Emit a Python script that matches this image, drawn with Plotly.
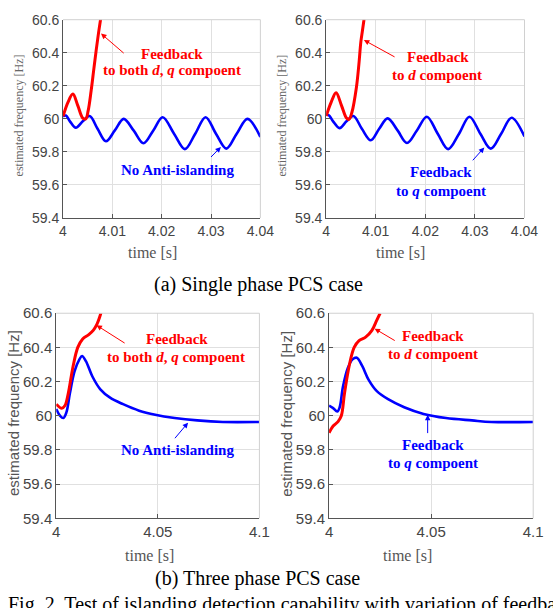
import plotly.graph_objects as go

# ---------------- data ----------------
# (a) single phase, left panel
a1_blue_t = [4.0000, 4.0006, 4.0014, 4.0026, 4.0040, 4.0054, 4.0070, 4.0087, 4.0105, 4.0123,
             4.0143, 4.0163, 4.0183, 4.0202, 4.0225, 4.0247, 4.0268, 4.0289, 4.0310, 4.0331,
             4.0352, 4.0374, 4.0400]
a1_blue_f = [60.015, 60.02, 59.985, 59.946, 59.985, 60.017, 59.94, 59.864, 59.93, 60.0,
             59.93, 59.852, 59.93, 60.01, 59.91, 59.817, 59.91, 60.01, 59.91, 59.82,
             59.91, 60.0, 59.89]
a1_red_t = [4.0000, 4.0010, 4.0020, 4.0030, 4.0040, 4.0046, 4.0051, 4.0057, 4.0062, 4.0067,
            4.0072, 4.0076, 4.0079]
a1_red_f = [60.015, 60.10, 60.15, 60.08, 60.005, 60.0, 60.05, 60.17, 60.29, 60.41,
            60.52, 60.60, 60.66]

# (a) single phase, right panel
a2_blue_t = [4.0000, 4.0006, 4.0014, 4.0027, 4.0041, 4.0055, 4.0072, 4.0090, 4.0107, 4.0124,
             4.0144, 4.0163, 4.0183, 4.0203, 4.0225, 4.0246, 4.0268, 4.0289, 4.0311, 4.0332,
             4.0353, 4.0374, 4.0400]
a2_blue_f = [60.026, 60.02, 59.985, 59.944, 59.985, 60.017, 59.94, 59.87, 59.94, 60.003,
             59.93, 59.854, 59.93, 60.013, 59.91, 59.817, 59.91, 60.013, 59.91, 59.82,
             59.91, 60.007, 59.893]
a2_red_t = [4.0000, 4.0010, 4.0020, 4.0031, 4.0041, 4.0046, 4.0052, 4.0061, 4.0066, 4.0070,
            4.0073, 4.0076, 4.0079]
a2_red_f = [60.017, 60.10, 60.158, 60.08, 60.005, 59.997, 60.04, 60.19, 60.33, 60.467,
            60.53, 60.594, 60.66]

# (b) three phase, left panel
b1_blue_t = [4.0000, 4.0019, 4.0035, 4.0050, 4.0067, 4.0090, 4.0114, 4.0127, 4.0146, 4.0178,
             4.0217, 4.0265, 4.0329, 4.0408, 4.0487, 4.0583, 4.0694, 4.0820, 4.1000]
b1_blue_f = [60.04, 60.0, 59.987, 60.02, 60.13, 60.26, 60.33, 60.35, 60.32, 60.23,
             60.155, 60.106, 60.068, 60.03, 60.006, 59.987, 59.973, 59.964, 59.964]
b1_red_t = [4.0000, 4.0027, 4.0043, 4.0059, 4.0083, 4.0106, 4.0130, 4.0160, 4.0182, 4.0200,
            4.0213, 4.0222]
b1_red_f = [60.068, 60.044, 60.06, 60.13, 60.29, 60.40, 60.45, 60.475, 60.50, 60.535,
            60.575, 60.61]

# (b) three phase, right panel
b2_blue_t = [4.0000, 4.0020, 4.0040, 4.0052, 4.0068, 4.0092, 4.0115, 4.0136, 4.0163, 4.0194,
             4.0234, 4.0289, 4.0368, 4.0463, 4.0573, 4.0700, 4.0795, 4.1000]
b2_blue_f = [60.06, 60.045, 60.025, 60.05, 60.17, 60.28, 60.33, 60.34, 60.29, 60.21,
             60.144, 60.097, 60.05, 60.011, 59.987, 59.973, 59.964, 59.964]
b2_red_t = [4.0000, 4.0020, 4.0044, 4.0060, 4.0076, 4.0100, 4.0123, 4.0147, 4.0179, 4.0210,
            4.0234, 4.0250]
b2_red_f = [59.90, 59.94, 59.966, 60.0, 60.135, 60.30, 60.40, 60.44, 60.46, 60.50,
            60.56, 60.60]

y_ticks = [59.4, 59.6, 59.8, 60.0, 60.2, 60.4, 60.6]
y_ticktext = ["59.4", "59.6", "59.8", "60", "60.2", "60.4", "60.6"]
xa_ticks = [4.0, 4.01, 4.02, 4.03, 4.04]
xa_ticktext = ["4", "4.01", "4.02", "4.03", "4.04"]
xb_ticks = [4.0, 4.05, 4.1]
xb_ticktext = ["4", "4.05", "4.1"]

RED = "#ff0000"
BLUE = "#0000ff"
SERIF = "Liberation Serif"
SANS = "Liberation Sans"

FW, FH = 553, 608

fig = go.Figure()

panels = [
    ("x", "y", a1_blue_t, a1_blue_f, a1_red_t, a1_red_f),
    ("x2", "y2", a2_blue_t, a2_blue_f, a2_red_t, a2_red_f),
    ("x3", "y3", b1_blue_t, b1_blue_f, b1_red_t, b1_red_f),
    ("x4", "y4", b2_blue_t, b2_blue_f, b2_red_t, b2_red_f),
]
for xa, ya, bt, bf, rt, rf in panels:
    fig.add_trace(go.Scatter(x=bt, y=bf, mode="lines", xaxis=xa, yaxis=ya,
                             line=dict(color=BLUE, width=2.6, shape="spline", smoothing=1.0),
                             showlegend=False, hoverinfo="skip"))
    fig.add_trace(go.Scatter(x=rt, y=rf, mode="lines", xaxis=xa, yaxis=ya,
                             line=dict(color=RED, width=3.0, shape="spline", smoothing=1.0),
                             showlegend=False, hoverinfo="skip"))

# panel pixel boxes in the screenshot: (left, right, top, bottom)
boxes = {
    1: (61, 265, 11, 215),
    2: (333, 538, 11, 215),
    3: (54, 264, 313, 524),
    4: (336, 547, 313, 524),
}

def px_x(p):
    return p / FW

def px_y(p):
    return 1 - p / FH

layout = dict(width=FW, height=FH, margin=dict(l=0, r=0, t=0, b=0),
              paper_bgcolor="white", plot_bgcolor="white", showlegend=False)

for i in range(1, 5):
    l, r, t, b = boxes[i]
    top = i <= 2
    sfx = "" if i == 1 else str(i)
    tick_size = 14 if top else 15
    layout["xaxis" + sfx] = dict(
        domain=[px_x(l), px_x(r)], anchor="y" + sfx,
        range=[4.0, 4.04] if top else [4.0, 4.1],
        tickvals=xa_ticks if top else xb_ticks,
        ticktext=xa_ticktext if top else xb_ticktext,
        showgrid=True, gridcolor="#e0e0e0", gridwidth=1,
        showline=True, linecolor="#555555", linewidth=1,
        ticks="inside", ticklen=4, tickcolor="#555555",
        tickfont=dict(family=SANS, size=tick_size, color="#444444"),
        zeroline=False, fixedrange=True)
    layout["yaxis" + sfx] = dict(
        domain=[px_y(b), px_y(t)], anchor="x" + sfx,
        range=[59.4, 60.6], tickvals=y_ticks, ticktext=y_ticktext,
        showgrid=True, gridcolor="#e0e0e0", gridwidth=1,
        showline=True, linecolor="#555555", linewidth=1,
        ticks="inside", ticklen=4, tickcolor="#555555",
        tickfont=dict(family=SANS, size=tick_size, color="#444444"),
        zeroline=False, fixedrange=True)

fig.update_layout(**layout)

# light box edges (top and right)
shapes = []
for i in range(1, 5):
    xr = "x domain" if i == 1 else "x%d domain" % i
    yr = "y domain" if i == 1 else "y%d domain" % i
    shapes.append(dict(type="line", xref=xr, yref=yr, x0=0, x1=1, y0=1, y1=1,
                       line=dict(color="#d0d0d0", width=1)))
    shapes.append(dict(type="line", xref=xr, yref=yr, x0=1, x1=1, y0=0, y1=1,
                       line=dict(color="#d0d0d0", width=1)))
fig.update_layout(shapes=shapes)

ann = []

def text(xr, yr, x, y, s, color, size=15):
    ann.append(dict(xref=xr, yref=yr, x=x, y=y, text="<b>%s</b>" % s, showarrow=False,
                    font=dict(family=SERIF, size=size, color=color),
                    xanchor="center", yanchor="middle"))

def arrow(xr, yr, hx, hy, tx, ty, color):
    ann.append(dict(xref=xr, yref=yr, axref=xr, ayref=yr, x=hx, y=hy, ax=tx, ay=ty,
                    text="", showarrow=True, arrowhead=2, arrowsize=1.1, arrowwidth=1,
                    arrowcolor=color, standoff=0, startstandoff=0))

# panel (a) left
text("x", "y", 4.0220, 60.394, "Feedback", RED)
text("x", "y", 4.0220, 60.294, "to both <i>d</i>, <i>q</i> compoent", RED)
arrow("x", "y", 4.0077, 60.516, 4.0126, 60.39, RED)
text("x", "y", 4.0233, 59.688, "No Anti-islanding", BLUE)
arrow("x", "y", 4.0320, 59.83, 4.0297, 59.76, BLUE)

# panel (a) right
text("x2", "y2", 4.0226, 60.376, "Feedback", RED)
text("x2", "y2", 4.0224, 60.265, "to <i>d</i> compoent", RED)
arrow("x2", "y2", 4.0076, 60.477, 4.0141, 60.37, RED)
text("x2", "y2", 4.0232, 59.676, "Feedback", BLUE)
text("x2", "y2", 4.0232, 59.565, "to <i>q</i> compoent", BLUE)
arrow("x2", "y2", 4.0319, 59.827, 4.0293, 59.74, BLUE)

# panel (b) left
text("x3", "y3", 4.0595, 60.452, "Feedback", RED)
text("x3", "y3", 4.0590, 60.344, "to both <i>d</i>, <i>q</i> compoent", RED)
arrow("x3", "y3", 4.0198, 60.53, 4.0344, 60.42, RED)
text("x3", "y3", 4.0595, 59.798, "No Anti-islanding", BLUE)
arrow("x3", "y3", 4.0649, 59.96, 4.0578, 59.86, BLUE)

# panel (b) right
text("x4", "y4", 4.0507, 60.469, "Feedback", RED)
text("x4", "y4", 4.0507, 60.361, "to <i>d</i> compoent", RED)
arrow("x4", "y4", 4.0223, 60.51, 4.0329, 60.435, RED)
text("x4", "y4", 4.0507, 59.832, "Feedback", BLUE)
text("x4", "y4", 4.0507, 59.724, "to <i>q</i> compoent", BLUE)
arrow("x4", "y4", 4.0483, 60.006, 4.0483, 59.89, BLUE)

# axis titles and captions (paper coords)
def paper_text(xp, yp, s, family, size, color, angle=0, xanchor="center", yanchor="middle"):
    ann.append(dict(xref="paper", yref="paper", x=px_x(xp), y=px_y(yp), text=s,
                    showarrow=False, textangle=angle,
                    font=dict(family=family, size=size, color=color),
                    xanchor=xanchor, yanchor=yanchor))

paper_text(15, 110, "estimated frequency [Hz]", SERIF, 12, "#666666", angle=-90)
paper_text(287, 110, "estimated frequency [Hz]", SERIF, 12, "#666666", angle=-90)
paper_text(10, 416, "estimated frequency [Hz]", SANS, 15, "#555555", angle=-90)
paper_text(292, 416, "estimated frequency [Hz]", SANS, 15, "#555555", angle=-90)

paper_text(153, 251, "time [s]", SERIF, 16, "#555555")
paper_text(410, 251, "time [s]", SERIF, 16, "#555555")
paper_text(150, 562, "time [s]", SERIF, 16, "#555555")
paper_text(417, 562, "time [s]", SERIF, 16, "#555555")

paper_text(263, 283, "(a) Single phase PCS case", SERIF, 20, "#000000")
paper_text(262, 586, "(b) Three phase PCS case", SERIF, 20, "#000000")
paper_text(2, 599, "Fig. 2. Test of islanding detection capability with variation of feedback component",
           SERIF, 20, "#000000", xanchor="left", yanchor="top")

fig.update_layout(annotations=ann)

# remove the browser's default 8px body margin so the figure sits at the page corner
fig.write_html("out.html", config={"displayModeBar": False, "staticPlot": True},
               post_script="document.body.style.margin='0';")
